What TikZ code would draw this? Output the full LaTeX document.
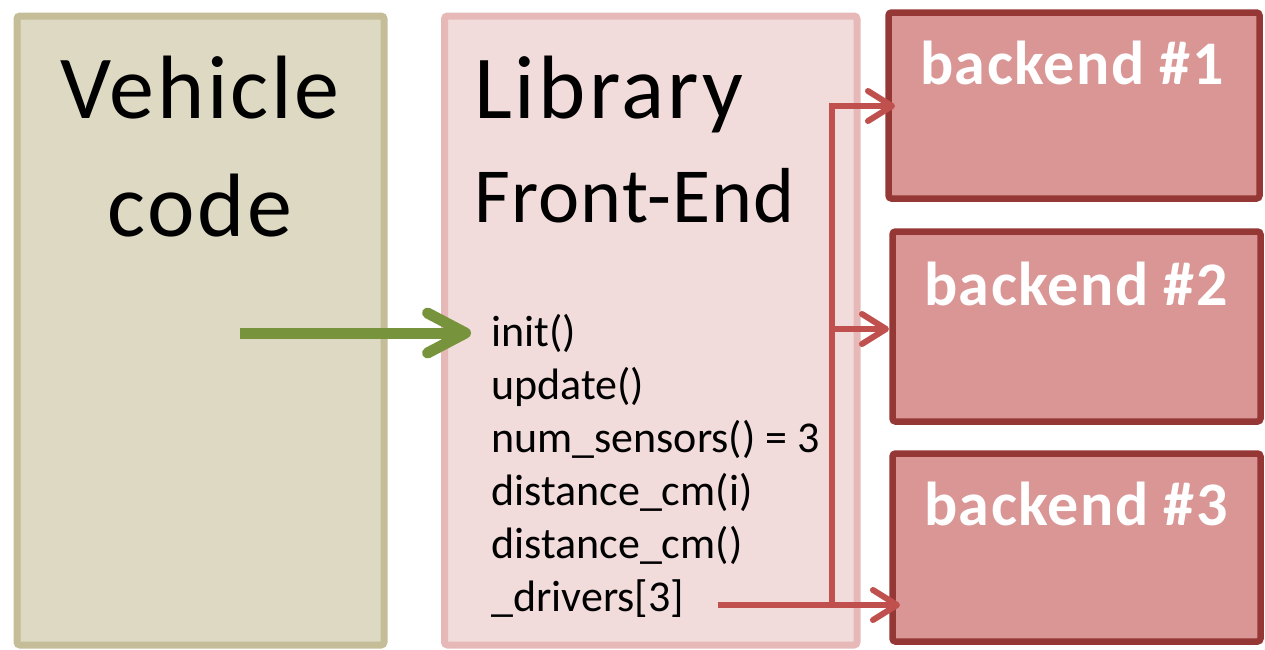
\documentclass[tikz,border=0pt]{standalone}
\usepackage{fontspec}
\setmainfont{Carlito}
\usetikzlibrary{arrows.meta}

\definecolor{vehfill}{HTML}{DDD9C3}
\definecolor{vehdraw}{HTML}{C4BD97}
\definecolor{libfill}{HTML}{F2DCDB}
\definecolor{libdraw}{HTML}{E6B9B8}
\definecolor{befill}{HTML}{D99694}
\definecolor{bedraw}{HTML}{953735}
\definecolor{busred}{HTML}{C0504D}
\definecolor{callgreen}{HTML}{77933C}

\begin{document}
\begin{tikzpicture}[x=1pt, y=-1pt,
  panel/.style={draw, line width=7pt, rounded corners=3pt,
                inner sep=0pt, outer sep=0pt},
  vehbox/.style={panel, draw=vehdraw, fill=vehfill},
  libbox/.style={panel, draw=libdraw, fill=libfill},
  bebox/.style={panel, draw=bedraw, fill=befill, line width=6.5pt},
  bigtext/.style={inner sep=0pt, anchor=base,
                  font=\fontsize{90}{100}\selectfont\addfontfeatures{LetterSpace=3}},
  midtext/.style={inner sep=0pt, anchor=base west,
                  font=\fontsize{78}{90}\selectfont\addfontfeatures{LetterSpace=1.6}},
  fntext/.style={inner sep=0pt, anchor=base west, font=\fontsize{44}{52}\selectfont},
  betext/.style={inner sep=0pt, anchor=base, text=white,
                 font=\fontsize{62}{70}\selectfont\bfseries\addfontfeatures{LetterSpace=2.3}},
  busline/.style={draw=busred, line width=6pt},
  busarrow/.style={busline, -{Straight Barb[length=24pt, width=30pt, round]}},
  callarrow/.style={draw=callgreen, line width=11pt,
                    -{Straight Barb[length=38pt, width=40pt, round]}}
]
\useasboundingbox (0,0) rectangle (1265,649);

% main blocks
\node[vehbox, minimum width=367pt, minimum height=629pt] (vehicle) at (200.5,330.5) {};
\node[libbox, minimum width=412.5pt, minimum height=629pt] (library) at (650.75,330.5) {};

% backends
\node[bebox, minimum width=371pt, minimum height=186pt] (be1) at (1074,105.5) {};
\node[bebox, minimum width=368pt, minimum height=190pt] (be2) at (1076.5,326.5) {};
\node[bebox, minimum width=368pt, minimum height=188pt] (be3) at (1076.5,547.5) {};

% titles
\node[bigtext] (vehA) at (200,118) {Vehicle};
\node[bigtext] (vehB) at (200,236) {code};
\node[bigtext, anchor=base west,
      font=\fontsize{90}{100}\selectfont\addfontfeatures{LetterSpace=3.4}] (libA) at (474,118) {Library};
\node[midtext] (libB) at (474,222) {Front-End};

\node[betext] (be1t) at (1072,84) {backend \#1};
\node[betext] (be2t) at (1076,305) {backend \#2};
\node[betext] (be3t) at (1076,525) {backend \#3};

% API of the front end
\node[fntext] (fInit)   at (491,346) {init()};
\node[fntext] (fUpdate) at (491,399) {update()};
\node[fntext] (fNum)    at (491,452) {num\_sensors() = 3};
\node[fntext] (fDistI)  at (491,505) {distance\_cm(i)};
\node[fntext] (fDist)   at (491,558) {distance\_cm()};
\node[fntext] (fDrv)    at (491,611) {\_drivers[3]};

% call from vehicle code into the library
\coordinate (callsrc) at (240,333);
\coordinate (calldst) at (471,333);
\draw[callarrow] (callsrc) -- (calldst);

% driver fan-out to the backends
\coordinate (drvsrc) at (718,605);
\coordinate (busbot) at (832,605);
\coordinate (bustop) at (832,106);
\coordinate (busmid) at (832,329);
\coordinate (tip1) at (895,106);
\coordinate (tip2) at (889,329);
\coordinate (tip3) at (900,605);
\draw[busline] (busbot) -- (busmid);
\draw[busarrow] (drvsrc) -- (tip3);
\draw[busarrow] (busbot) -- (bustop) -- (tip1);
\draw[busarrow] (busmid) -- (tip2);
\end{tikzpicture}
\end{document}
